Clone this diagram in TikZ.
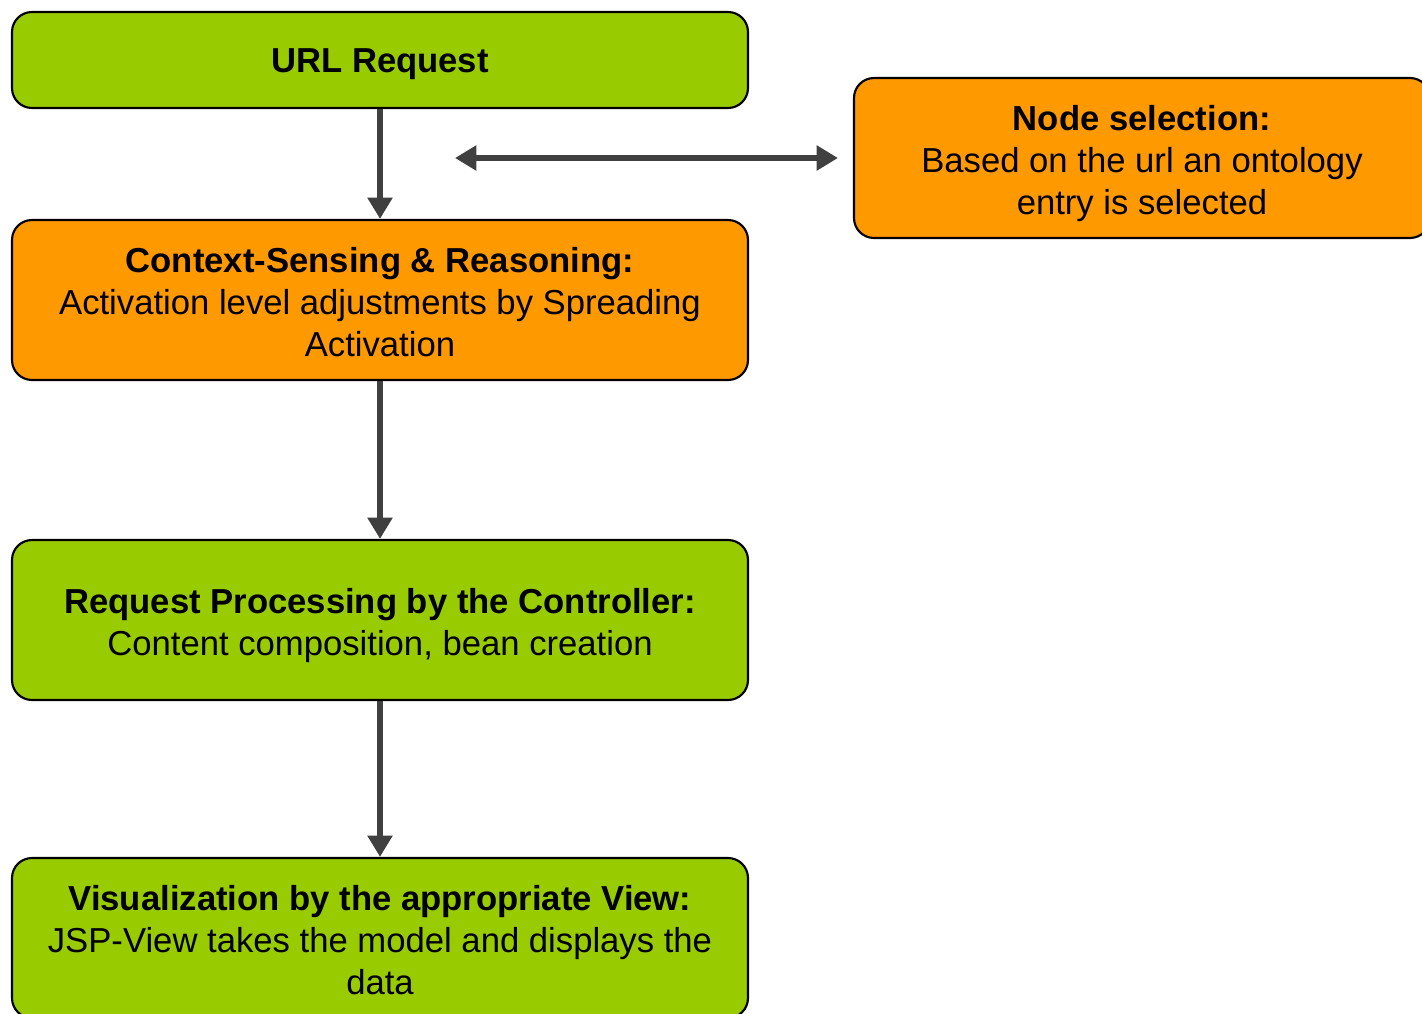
\documentclass[tikz,border=0pt]{standalone}
\usepackage{fontspec}
\setmainfont{Liberation Sans}
\usetikzlibrary{arrows.meta}
\definecolor{boxgreen}{HTML}{99CC00}
\definecolor{boxorange}{HTML}{FF9900}
\definecolor{arrowgray}{HTML}{404040}
\begin{document}
\begin{tikzpicture}[x=0.75pt,y=-0.75pt,
  box/.style={draw=black,line width=1.6pt,rounded corners=15pt,inner sep=0pt},
  txt/.style={align=center,inner sep=0pt,font=\fontsize{26}{31.5}\selectfont,text=black},
  greenbox/.style={box,fill=boxgreen},
  orangebox/.style={box,fill=boxorange},
  flow/.style={draw=arrowgray,line width=4.5pt,-{Triangle[width=18pt,length=16pt]}},
  bothflow/.style={draw=arrowgray,line width=4.5pt,{Triangle[width=18pt,length=16pt]}-{Triangle[width=18pt,length=16pt]}}]
\useasboundingbox (0,0) rectangle (1422,1014);
\node[greenbox,minimum width=552pt,minimum height=72pt,
  label={[txt,yshift=-3pt]center:\textbf{URL Request}}] (url) at (380,60) {};
\node[orangebox,minimum width=432pt,minimum height=120pt,
  label={[txt,yshift=-4.5pt]center:{\textbf{Node selection:}\\Based on the url an ontology\\entry is selected}}] (sel) at (1142,158) {};
\node[orangebox,minimum width=552pt,minimum height=120pt,
  label={[txt,yshift=-1.5pt]center:{\textbf{Context-Sensing \& Reasoning:}\\Activation level adjustments by Spreading\\Activation}}] (ctx) at (380,300) {};
\node[greenbox,minimum width=552pt,minimum height=120pt,
  label={[txt,yshift=-4.5pt]center:{\textbf{Request Processing by the Controller:}\\Content composition, bean creation}}] (req) at (380,620) {};
\node[greenbox,minimum width=552pt,minimum height=120pt,
  label={[txt,yshift=-1.5pt]center:{\textbf{Visualization by the appropriate View:}\\JSP-View takes the model and displays the\\data}}] (vis) at (380,938) {};
\coordinate (la) at (455,158);
\path[bothflow] (la) -- (sel.west -| 838,0);
\path[flow] (url.south) -- (ctx.north);
\path[flow] (ctx.south) -- (req.north);
\path[flow] (req.south) -- (vis.north);
\end{tikzpicture}
\end{document}
